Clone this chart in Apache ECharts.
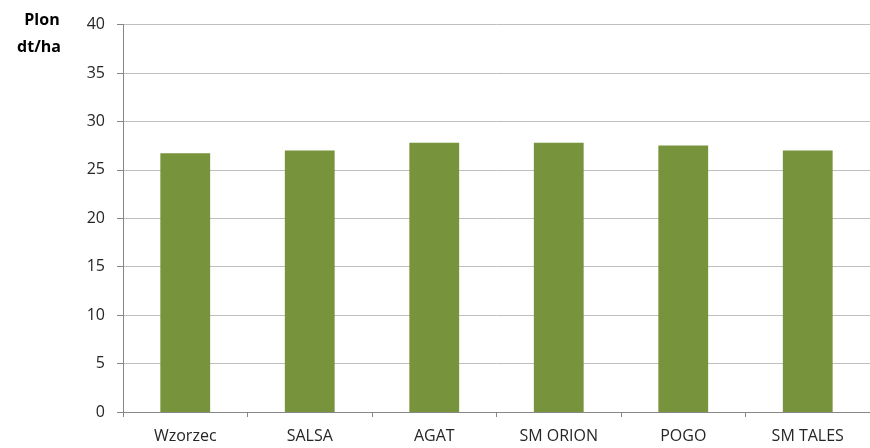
<!DOCTYPE html>
<html><head><meta charset="utf-8">
<script src="https://cdn.jsdelivr.net/npm/echarts@6/dist/echarts.min.js"></script>
<style>html,body{margin:0;padding:0;background:#fff}#c{width:870px;height:448px}</style>
</head><body><div id="c"></div>
<script>
const categories = ['Wzorzec', 'SALSA', 'AGAT', 'SM ORION', 'POGO', 'SM TALES'];
const yieldValues = [26.7, 27.0, 27.8, 27.8, 27.5, 27.0];
const yTicks = [0, 5, 10, 15, 20, 25, 30, 35, 40];

const chart = echarts.init(document.getElementById('c'), null, {renderer: 'canvas'});
const font = '"Open Sans", "Liberation Sans", sans-serif';
chart.setOption({
  animation: false,
  graphic: [
    {type: 'text', x: 42, y: 20, style: {text: 'Plon', textAlign: 'center', textVerticalAlign: 'middle', fill: '#000', font: 'bold 16px ' + font}},
    {type: 'text', x: 39, y: 47, style: {text: 'dt/ha', textAlign: 'center', textVerticalAlign: 'middle', fill: '#000', font: 'bold 16px ' + font}}
  ],
  grid: {left: 123, top: 24.5, width: 753, height: 387.5, containLabel: false},
  xAxis: {
    type: 'category', data: categories,
    axisLine: {lineStyle: {color: '#868686', width: 1}},
    axisTick: {show: true, length: 5, alignWithLabel: false, lineStyle: {color: '#868686'}},
    axisLabel: {color: '#262626', fontSize: 16, fontFamily: font, margin: 16}
  },
  yAxis: {
    type: 'value', min: yTicks[0], max: yTicks[yTicks.length - 1], interval: 5,
    axisLine: {show: true, lineStyle: {color: '#868686', width: 1}},
    axisTick: {show: true, length: 6, lineStyle: {color: '#868686'}},
    splitLine: {lineStyle: {color: '#bfbfbf', width: 1}},
    axisLabel: {color: '#262626', fontSize: 16, fontFamily: font, margin: 18}
  },
  series: [{
    type: 'bar', data: yieldValues, barWidth: '40%',
    itemStyle: {color: '#77933c'}
  }]
});
</script></body></html>
